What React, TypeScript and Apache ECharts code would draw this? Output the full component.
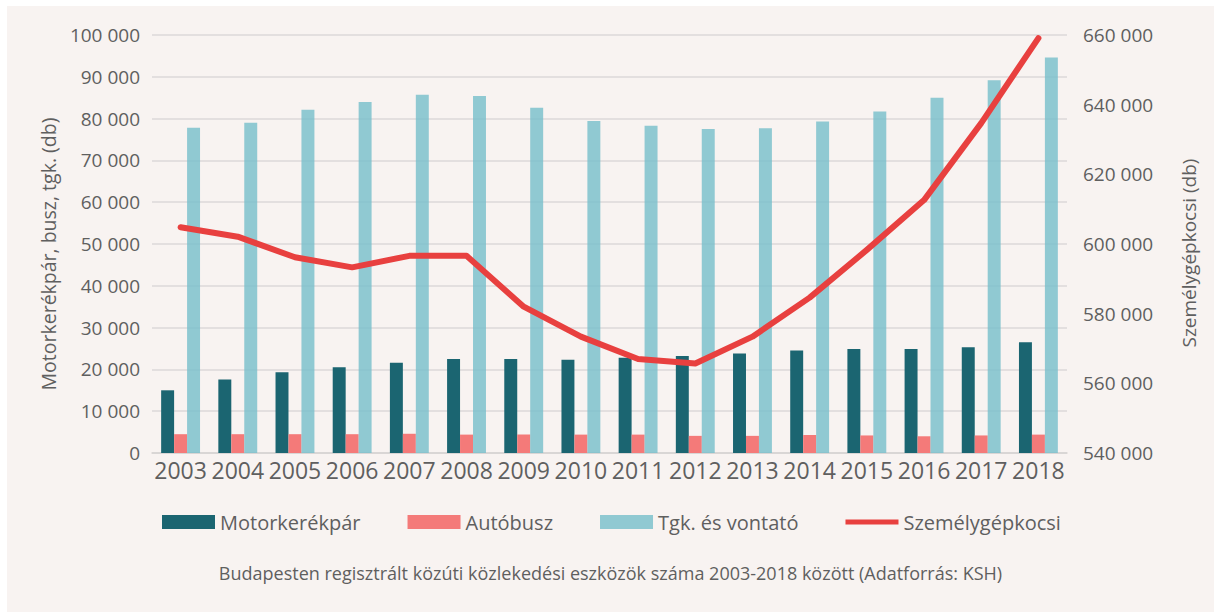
import React, { useEffect, useRef } from "react";
import * as echarts from "echarts";

const years = ["2003","2004","2005","2006","2007","2008","2009","2010","2011","2012","2013","2014","2015","2016","2017","2018"];
const motorkerekpar = [15000,17600,19300,20500,21600,22500,22500,22300,22800,23200,23800,24500,24900,24900,25300,26500];
const autobusz = [4500,4500,4500,4500,4600,4400,4400,4400,4400,4100,4100,4300,4200,4000,4200,4400];
const tgk = [77800,79000,82100,84000,85700,85400,82600,79400,78300,77500,77700,79300,81700,85000,89200,94600];
const szemelygepkocsi = [604800,602100,596200,593300,596600,596600,582000,573400,567000,565700,573400,584600,598300,612600,634700,659100];

const leftMin = 0, leftMax = 100000, leftStep = 10000;
const rightMin = 540000, rightMax = 660000, rightStep = 20000;

const seriesNames = ["Motorkerékpár", "Autóbusz", "Tgk. és vontató", "Személygépkocsi"];
const caption = "Budapesten regisztrált közúti közlekedési eszközök száma 2003-2018 között (Adatforrás: KSH)";

const fmt = (v: number) => String(v).replace(/\B(?=(\d{3})+(?!\d))/g, " ");

export default function App() {
  const ref = useRef<HTMLDivElement>(null);
  useEffect(() => {
    if (!ref.current) return;
    const chart = echarts.init(ref.current, null, { renderer: "svg" });
    const font = "'Open Sans', sans-serif";
    const gray = "#5f5f5f";
    chart.setOption({
      animation: false,
      backgroundColor: "#f8f3f1",
      textStyle: { fontFamily: font },
      title: {
        text: caption,
        left: "center",
        top: 553,
        textStyle: { fontFamily: font, fontSize: 18, fontWeight: "normal", color: gray },
      },
      legend: {
        left: 150,
        top: 501,
        itemWidth: 53,
        itemHeight: 14,
        itemGap: 47,
        textStyle: { fontFamily: font, fontSize: 20, color: gray },
        data: [
          { name: seriesNames[0], icon: "rect" },
          { name: seriesNames[1], icon: "rect" },
          { name: seriesNames[2], icon: "rect" },
          { name: seriesNames[3], icon: "path://M0 0H53V5H0Z" },
        ],
      },
      grid: { left: 145, right: 147, top: 29, bottom: 159, containLabel: false },
      xAxis: {
        type: "category",
        data: years,
        axisTick: { show: false },
        axisLine: { lineStyle: { color: "#d6d3d2", width: 1.5 } },
        axisLabel: { fontSize: 23, color: gray, margin: 5, interval: 0 },
      },
      yAxis: [
        {
          type: "value",
          min: leftMin,
          max: leftMax,
          interval: leftStep,
          name: seriesNames[0] + ", busz, tgk. (db)",
          nameLocation: "middle",
          nameRotate: 90,
          nameGap: 85,
          nameTextStyle: { fontSize: 19.5, color: gray, padding: [0, 20, 0, 0] },
          axisLabel: { fontSize: 19, color: gray, margin: 12, formatter: (v: number) => fmt(v) },
          splitLine: { lineStyle: { color: "#dcd9d8", width: 1.5 } },
          axisLine: { show: false },
          axisTick: { show: false },
        },
        {
          type: "value",
          min: rightMin,
          max: rightMax,
          interval: rightStep,
          name: "Személygépkocsi (db)",
          nameLocation: "middle",
          nameRotate: 90,
          nameGap: 112,
          nameTextStyle: { fontSize: 19, color: gray, padding: [0, 18, 0, 0] },
          axisLabel: { fontSize: 19, color: gray, margin: 16, formatter: (v: number) => fmt(v) },
          splitLine: { show: false },
          axisLine: { show: false },
          axisTick: { show: false },
        },
      ],
      series: [
        {
          name: seriesNames[0],
          type: "bar",
          data: motorkerekpar,
          barGap: "0%",
          barCategoryGap: "32%",
          itemStyle: { color: "#1b6571" },
        },
        {
          name: seriesNames[1],
          type: "bar",
          data: autobusz,
          itemStyle: { color: "#f47a79" },
        },
        {
          name: seriesNames[2],
          type: "bar",
          data: tgk,
          itemStyle: { color: "rgba(118,190,202,0.8)" },
        },
        {
          name: seriesNames[3],
          type: "line",
          yAxisIndex: 1,
          data: szemelygepkocsi,
          symbol: "none",
          lineStyle: { color: "#e8403f", width: 6, join: "round", cap: "round" },
          itemStyle: { color: "#e8403f" },
          z: 5,
        },
      ],
    });
    return () => chart.dispose();
  }, []);
  return (
    <div
      ref={ref}
      style={{ position: "absolute", left: 7, top: 6, width: 1207, height: 606 }}
    />
  );
}
